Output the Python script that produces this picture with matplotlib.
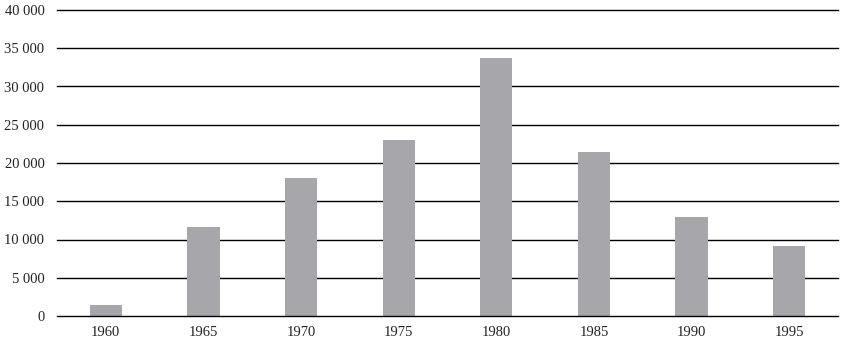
import matplotlib.pyplot as plt
from matplotlib.ticker import FuncFormatter

years = ['1960', '1965', '1970', '1975', '1980', '1985', '1990', '1995']
values = [1400, 11600, 18000, 23000, 33700, 21400, 13000, 9100]
y_ticks = list(range(0, 40001, 5000))

plt.rcParams['font.family'] = ['Liberation Serif', 'DejaVu Serif']

fig = plt.figure(figsize=(8.42, 3.49), dpi=100)
ax = fig.add_axes([57 / 842, 33 / 349, 781 / 842, 306 / 349])

ax.bar(range(len(years)), values, width=0.33, color='#a7a7ab', zorder=3)

ax.set_xlim(-0.5, len(years) - 0.5)
ax.set_ylim(0, 40000)
ax.set_yticks(y_ticks)
ax.yaxis.set_major_formatter(FuncFormatter(lambda v, p: f'{int(v):,}'.replace(',', ' ')))
ax.set_xticks(range(len(years)))
ax.set_xticklabels(years)

# horizontal rules at every tick, drawn unclipped so the edges stay full width
for t in y_ticks:
    ax.axhline(t, color='black', linewidth=1.0, zorder=0 if t else 4, clip_on=False)
for s in ax.spines.values():
    s.set_visible(False)
ax.tick_params(length=0, labelsize=10.5, colors='#222222')
ax.tick_params(axis='y', pad=9)
ax.tick_params(axis='x', pad=7)

fig.savefig('out.png', dpi=100)
